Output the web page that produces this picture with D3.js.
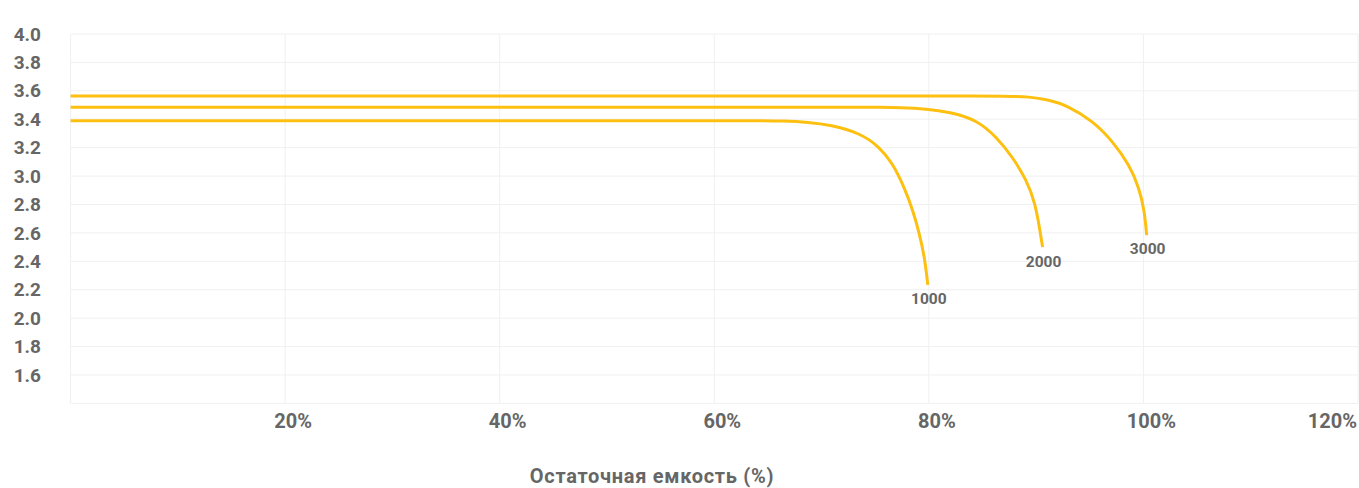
<!DOCTYPE html>
<html><head><meta charset="utf-8">
<script src="https://cdn.jsdelivr.net/npm/d3@7/dist/d3.min.js"></script>
<style>body{margin:0;background:#fff;}svg{display:block;font-family:Roboto,"Open Sans",sans-serif;}</style>
</head><body>
<svg id="c" width="1359" height="488"></svg>
<script>
const xTicks = [20, 40, 60, 80, 100, 120];
const yTicks = [1.6, 1.8, 2.0, 2.2, 2.4, 2.6, 2.8, 3.0, 3.2, 3.4, 3.6, 3.8, 4.0];
const seriesNames = ["1000", "2000", "3000"];
const s1000x = [0, 60, 64, 66.4, 68.8, 70.8, 73.6, 75.4, 76.6, 77.7, 78.5, 79.1, 79.6, 79.9];
const s1000y = [3.39, 3.39, 3.39, 3.388, 3.379, 3.36, 3.303, 3.205, 3.092, 2.923, 2.761, 2.60, 2.431, 2.234];
const s2000x = [0, 70, 73.0, 75.5, 77.3, 79.8, 81.9, 84.5, 86.3, 87.8, 89.1, 89.9, 90.3, 90.6];
const s2000y = [3.485, 3.485, 3.485, 3.484, 3.483, 3.473, 3.451, 3.395, 3.275, 3.134, 2.973, 2.811, 2.642, 2.50];
const s3000x = [0, 80, 84, 87, 89.4, 91.2, 92.8, 95.3, 97.1, 98.7, 99.6, 100.1, 100.3];
const s3000y = [3.563, 3.563, 3.563, 3.563, 3.559, 3.535, 3.50, 3.388, 3.247, 3.078, 2.916, 2.754, 2.585];
const xTitle = "Остаточная емкость (%)";

const svg = d3.select("#c");
const x = d3.scaleLinear().domain([0, 120]).range([70.6, 1358]);
const y = d3.scaleLinear().domain([1.4, 4.0]).range([403.4, 34]);
const grid = "#f0f0f0", txt = "#666";

const g = svg.append("g");
[0].concat(xTicks).forEach(t => g.append("line").attr("x1", x(t)).attr("x2", x(t)).attr("y1", y(4.0)).attr("y2", y(1.4)).attr("stroke", grid).attr("stroke-width", 1));
[1.4].concat(yTicks).forEach(t => g.append("line").attr("x1", x(0)).attr("x2", x(120)).attr("y1", y(t)).attr("y2", y(t)).attr("stroke", grid).attr("stroke-width", 1));

yTicks.forEach(t => svg.append("text").attr("x", 41).attr("y", y(t)).attr("dy", "0.35em").attr("text-anchor", "end")
  .attr("font-size", 19).attr("font-weight", "bold").attr("fill", txt).text(t.toFixed(1)));
xTicks.forEach(t => {
  const last = t === 120;
  svg.append("text").attr("x", last ? 1357 : x(t) + 8).attr("y", 421).attr("dy", "0.35em")
    .attr("text-anchor", last ? "end" : "middle")
    .attr("font-size", 20).attr("font-weight", "bold").attr("fill", txt).text(t + "%");
});
svg.append("text").attr("x", 652).attr("y", 483).attr("text-anchor", "middle")
  .attr("font-size", 20).attr("font-weight", "bold").attr("letter-spacing", 0.7).attr("fill", txt).text(xTitle);

const series = [[s1000x, s1000y], [s2000x, s2000y], [s3000x, s3000y]];
const line = d3.line().x(d => x(d[0])).y(d => y(d[1])).curve(d3.curveBasis);
series.forEach((s, i) => {
  const pts = s[0].map((v, j) => [v, s[1][j]]);
  svg.append("path").attr("d", line(pts)).attr("fill", "none").attr("stroke", "#fdc010").attr("stroke-width", 3);
  const last = pts[pts.length - 1];
  svg.append("text").attr("x", x(last[0]) + 1).attr("y", y(last[1]) + 14).attr("dy", "0.35em").attr("text-anchor", "middle")
    .attr("font-size", 15.5).attr("font-weight", "bold").attr("fill", txt).text(seriesNames[i]);
});
</script>
</body></html>
